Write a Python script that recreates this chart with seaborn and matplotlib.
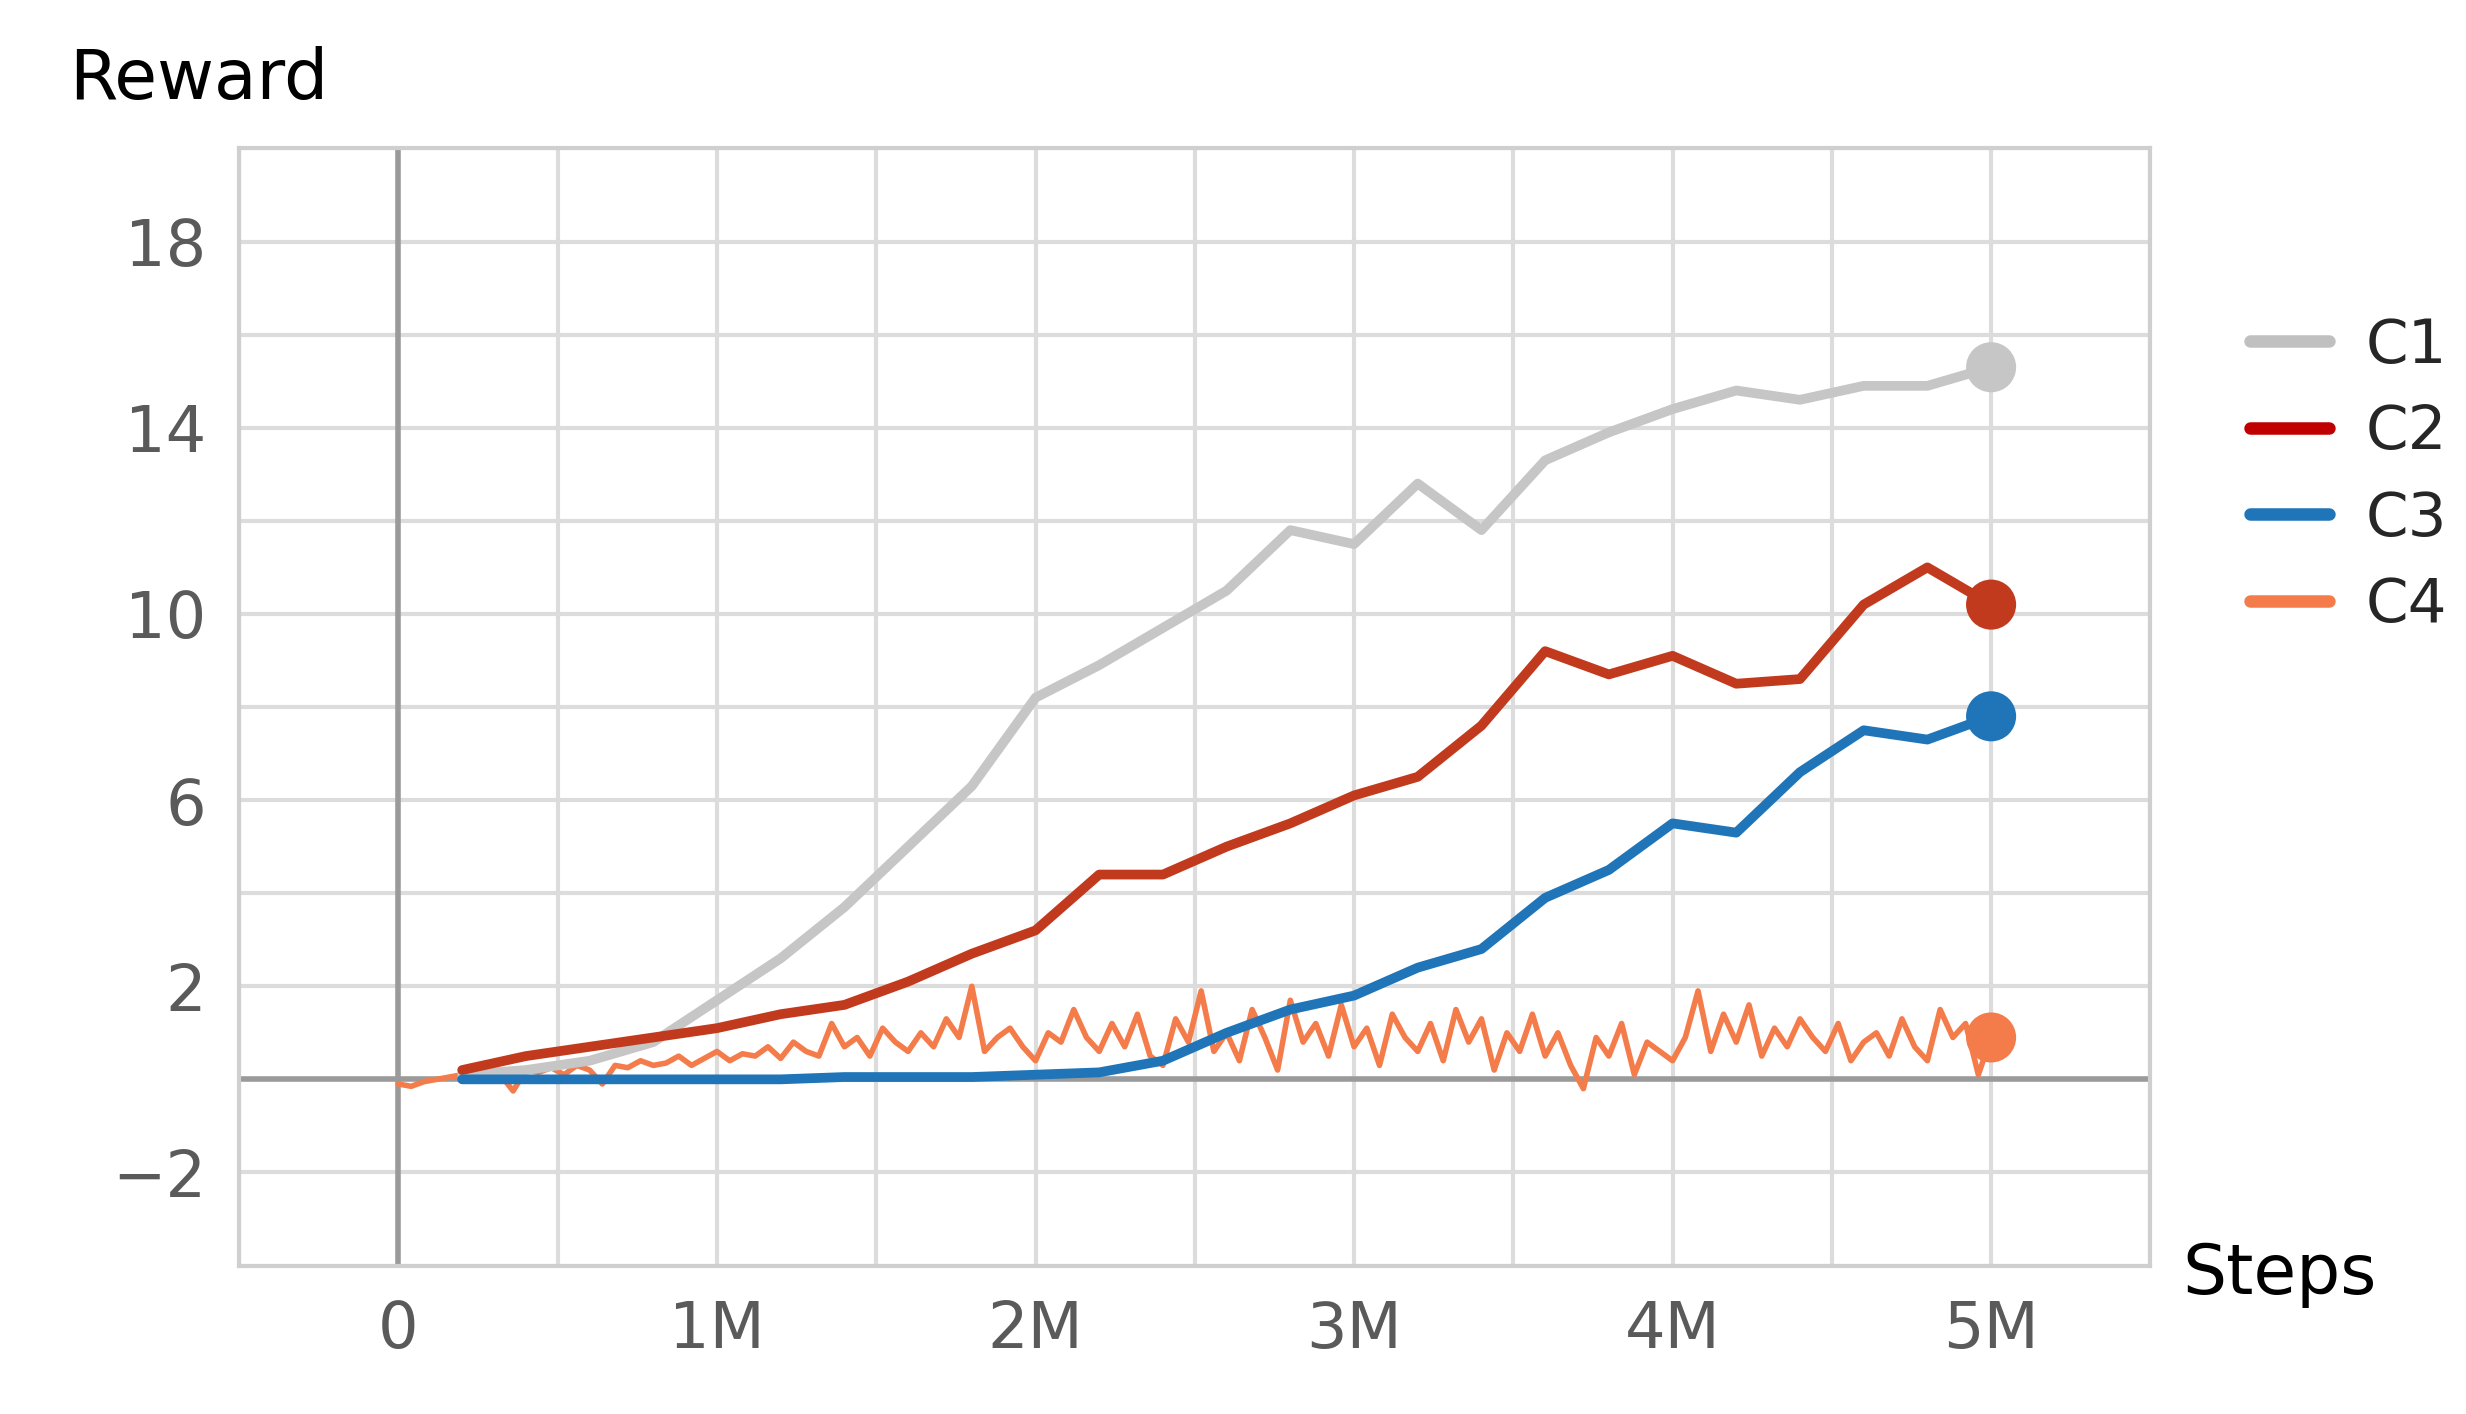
import numpy as np
import pandas as pd
import matplotlib
matplotlib.use("Agg")
import matplotlib.pyplot as plt
import seaborn as sns
from matplotlib.lines import Line2D

# values (steps in millions)
steps = [0.2, 0.4, 0.6, 0.8, 1.0, 1.2, 1.4, 1.6, 1.8, 2.0, 2.2, 2.4, 2.6,
         2.8, 3.0, 3.2, 3.4, 3.6, 3.8, 4.0, 4.2, 4.4, 4.6, 4.8, 5.0]
c1 = [0.1, 0.2, 0.4, 0.8, 1.7, 2.6, 3.7, 5.0, 6.3, 8.2, 8.9, 9.7, 10.5,
      11.8, 11.5, 12.8, 11.8, 13.3, 13.9, 14.4, 14.8, 14.6, 14.9, 14.9, 15.3]
c2 = [0.2, 0.5, 0.7, 0.9, 1.1, 1.4, 1.6, 2.1, 2.7, 3.2, 4.4, 4.4, 5.0,
      5.5, 6.1, 6.5, 7.6, 9.2, 8.7, 9.1, 8.5, 8.6, 10.2, 11.0, 10.2]
c3 = [0.0, 0.0, 0.0, 0.0, 0.0, 0.0, 0.05, 0.05, 0.05, 0.1, 0.15, 0.4, 1.0,
      1.5, 1.8, 2.4, 2.8, 3.9, 4.5, 5.5, 5.3, 6.6, 7.5, 7.3, 7.8]

c4_steps = [i * 0.04 for i in range(126)]
c4 = [-0.1, -0.15, -0.05, 0.0, 0.05, 0.1, 0.0, 0.15, 0.1, -0.25, 0.2, 0.15,
      0.25, 0.1, 0.3, 0.2, -0.1, 0.3, 0.25, 0.4, 0.3, 0.35, 0.5, 0.3,
      0.45, 0.6, 0.4, 0.55, 0.5, 0.7, 0.45, 0.8, 0.6, 0.5, 1.2, 0.7,
      0.9, 0.5, 1.1, 0.8, 0.6, 1.0, 0.7, 1.3, 0.9, 2.0, 0.6, 0.9,
      1.1, 0.7, 0.4, 1.0, 0.8, 1.5, 0.9, 0.6, 1.2, 0.7, 1.4, 0.5,
      0.3, 1.3, 0.8, 1.9, 0.6, 1.0, 0.4, 1.5, 0.9, 0.2, 1.7, 0.8,
      1.2, 0.5, 1.6, 0.7, 1.1, 0.3, 1.4, 0.9, 0.6, 1.2, 0.4, 1.5,
      0.8, 1.3, 0.2, 1.0, 0.6, 1.4, 0.5, 1.0, 0.3, -0.2, 0.9, 0.5,
      1.2, 0.1, 0.8, 0.6, 0.4, 0.9, 1.9, 0.6, 1.4, 0.8, 1.6, 0.5,
      1.1, 0.7, 1.3, 0.9, 0.6, 1.2, 0.4, 0.8, 1.0, 0.5, 1.3, 0.7,
      0.4, 1.5, 0.9, 1.2, 0.1, 0.9]

colors = {"C1": "#c6c6c6", "C2": "#c23a1e", "C3": "#1f75b8", "C4": "#f47c4a"}
legend_colors = {"C1": "#c0c0c0", "C2": "#c00000", "C3": "#1f75b8", "C4": "#f47c4a"}

main = pd.DataFrame({"steps": steps * 3,
                     "reward": c1 + c2 + c3,
                     "run": ["C1"] * len(steps) + ["C2"] * len(steps) + ["C3"] * len(steps)})
noisy = pd.DataFrame({"steps": c4_steps, "reward": c4, "run": "C4"})

sns.set_style("white")
plt.rcParams['font.family'] = ['DejaVu Sans']

fig = plt.figure(figsize=(24.66, 14.14), dpi=100)
ax = fig.add_axes([0.097, 0.105, 0.775, 0.79])

# grid every 0.5M and every 2 reward units
for gx in np.arange(-0.5, 5.51, 0.5):
    ax.axvline(gx, color="#dcdcdc", lw=3, zorder=0)
for gy in np.arange(-4, 20.1, 2):
    ax.axhline(gy, color="#dcdcdc", lw=3, zorder=0)
ax.axhline(0, color="#9a9a9a", lw=4, zorder=1)
ax.axvline(0, color="#9a9a9a", lw=4, zorder=1)

sns.lineplot(data=noisy, x="steps", y="reward", color=colors["C4"], linewidth=4, ax=ax, zorder=3)
sns.lineplot(data=main, x="steps", y="reward", hue="run", palette=colors, linewidth=7,
             ax=ax, legend=False, zorder=4)

ends = {"C1": c1[-1], "C2": c2[-1], "C3": c3[-1], "C4": 0.9}
for k, v in ends.items():
    ax.scatter([5.0], [v], s=1300, color=colors[k], zorder=5, edgecolor="none")

ax.set_xlim(-0.5, 5.5)
ax.set_ylim(-4, 20)
ax.set_xticks([0, 1, 2, 3, 4, 5])
ax.set_xticklabels(["0", "1M", "2M", "3M", "4M", "5M"])
ax.set_yticks([-2, 2, 6, 10, 14, 18])
ax.set_yticklabels(["\u22122", "2", "6", "10", "14", "18"])
ax.tick_params(axis="both", labelsize=46, colors="#5a5a5a", length=0, pad=24)
ax.set_xlabel("")
ax.set_ylabel("")
for s in ax.spines.values():
    s.set_color("#cfcfcf")
    s.set_linewidth(3)

fig.text(0.028, 0.93, "Reward", fontsize=50, color="black")
fig.text(0.885, 0.085, "Steps", fontsize=50, color="black")

handles = [Line2D([0], [0], color=legend_colors[k], lw=9) for k in ["C1", "C2", "C3", "C4"]]
fig.legend(handles, ["C1", "C2", "C3", "C4"], loc="upper left", bbox_to_anchor=(0.89, 0.815),
           frameon=False, fontsize=44, handlelength=1.3, labelspacing=0.45, handletextpad=0.6)

fig.savefig("out.png", dpi=100, facecolor="white")
